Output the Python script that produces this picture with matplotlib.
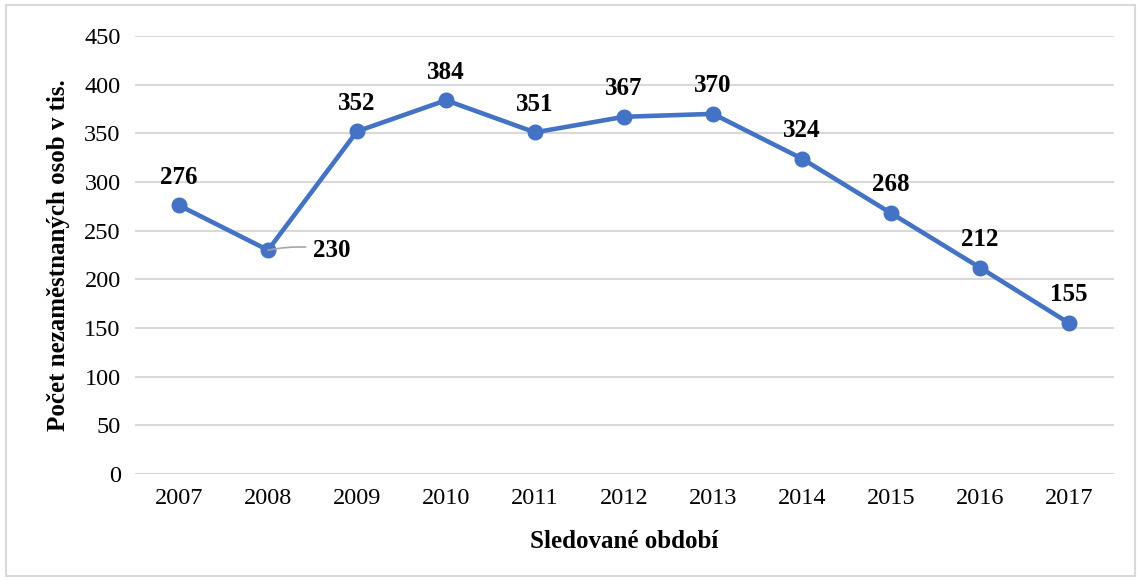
import matplotlib.pyplot as plt
from matplotlib.patches import Rectangle

years = ["2007", "2008", "2009", "2010", "2011", "2012", "2013", "2014", "2015", "2016", "2017"]
values = [276, 230, 352, 384, 351, 367, 370, 324, 268, 212, 155]
yticks = [0, 50, 100, 150, 200, 250, 300, 350, 400, 450]

plt.rcParams['font.family'] = ['Liberation Serif', 'DejaVu Serif']

fig = plt.figure(figsize=(11.41, 5.81), dpi=100)
ax = fig.add_axes([0.1179, 0.1842, 0.858, 0.7538])

x = range(len(years))
ax.plot(x, values, color="#4472C4", linewidth=3.3, marker="o", markersize=10.5, zorder=3)

for i, v in enumerate(values):
    if i == 1:
        ax.annotate(str(v), xy=(i, v), xytext=(i + 0.5, v), ha="left", va="center",
                    fontsize=18, fontweight="bold",
                    arrowprops=dict(arrowstyle="-", color="#A6A6A6", lw=1.2,
                                    connectionstyle="arc3,rad=0.1", shrinkA=3, shrinkB=0))
    else:
        ax.annotate(str(v), xy=(i, v), xytext=(0, 12), textcoords="offset points",
                    ha="center", va="bottom", fontsize=18, fontweight="bold")

ax.set_xlim(-0.5, len(years) - 0.5)
ax.set_ylim(0, 450)
ax.set_yticks(yticks)
ax.set_xticks(list(x))
ax.set_xticklabels(years)
ax.tick_params(axis="both", length=0, labelsize=17.5, pad=10)
ax.grid(axis="y", color="#D9D9D9", linewidth=1.5)
ax.set_axisbelow(True)
for s in ax.spines.values():
    s.set_visible(False)

ax.set_xlabel("Sledované období", fontsize=18, fontweight="bold", labelpad=15)
ax.set_ylabel("Počet nezaměstnaných osob v tis.", fontsize=18, fontweight="bold", labelpad=10)

fig.patches.append(Rectangle((0.005, 0.008), 0.99, 0.984, transform=fig.transFigure,
                             fill=False, edgecolor="#D9D9D9", linewidth=1.5))

fig.savefig("out.png", dpi=100)
